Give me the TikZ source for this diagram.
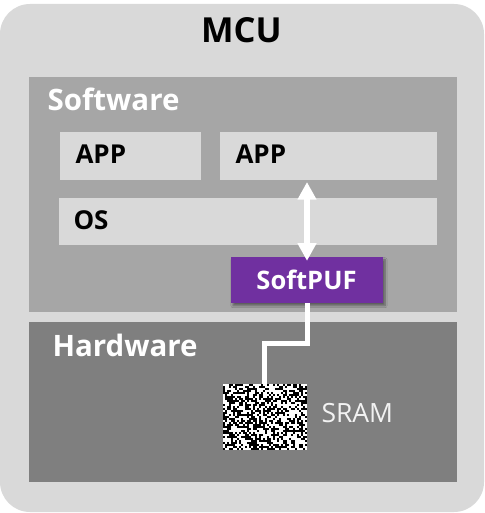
\documentclass[tikz,border=0pt]{standalone}
\usepackage{fontspec}
\setmainfont{Open Sans}
\usetikzlibrary{arrows.meta,calc,shadows.blur}
\definecolor{lg}{HTML}{D9D9D9}
\definecolor{mg}{HTML}{A6A6A6}
\definecolor{dg}{HTML}{7F7F7F}
\definecolor{pur}{HTML}{7030A0}
\begin{document}
\begin{tikzpicture}[x=1pt,y=-1pt,
  box/.style={inner sep=0pt, outer sep=0pt, draw=none},
  lbl/.style={inner sep=0pt, outer sep=0pt, anchor=base west},
  wire/.style={white, line width=5pt},
  dbl/.style={white, line width=5.3pt, {Triangle[width=18pt,length=17.7pt]}-{Triangle[width=18pt,length=17.7pt]}}
]
\useasboundingbox (0,0) rectangle (484,513);
\node[box, fill=lg, rounded corners=30pt, minimum width=484pt, minimum height=508pt] (mcu) at (242,258) {};
\node[box, fill=mg, minimum width=428pt, minimum height=235pt] (sw) at (243,194.5) {};
\node[box, fill=dg, minimum width=428pt, minimum height=160pt] (hw) at (243,402) {};
\node[box, fill=lg, minimum width=140.7pt, minimum height=48pt] (app1) at (130.35,156) {};
\node[box, fill=lg, minimum width=217pt, minimum height=48pt] (app2) at (328.5,156) {};
\node[box, fill=lg, minimum width=378pt, minimum height=47pt] (os) at (248,221.5) {};
\node[box, fill=pur, minimum width=152pt, minimum height=45.7pt,
  blur shadow={shadow xshift=2pt, shadow yshift=-2.5pt, shadow blur steps=6, shadow opacity=45}] (puf) at (307,280.2) {};
\node[box, fill=black, minimum width=84pt, minimum height=66pt] (sram) at (264.7,417) {};
\pgfmathsetseed{7}
\foreach \i in {0,...,41}{
  \foreach \j in {0,...,32}{
    \pgfmathsetmacro\r{rnd}
    \ifdim\r pt>0.48pt
      \fill[white] ($(sram.north west)+(\i*2,\j*2)$) rectangle ++(2,2);
    \fi
  }
}
% texts
\node[inner sep=0pt, anchor=base, font=\bfseries\fontsize{34.5}{38}\selectfont] (tmcu) at (241.5,42.7) {MCU};
\node[lbl, text=white, font=\bfseries\fontsize{29.5}{33}\selectfont] (tsw) at (47.5,110.3) {Software};
\node[lbl, text=white, font=\bfseries\fontsize{29.5}{33}\selectfont] (thw) at (52.5,356.8) {Hardware};
\node[lbl, font=\bfseries\fontsize{26}{30}\selectfont] (tapp1) at (75.5,163.3) {APP};
\node[lbl, font=\bfseries\fontsize{26}{30}\selectfont] (tapp2) at (235.5,163.3) {APP};
\node[lbl, font=\bfseries\fontsize{26}{30}\selectfont] (tos) at (73.5,229.7) {OS};
\node[inner sep=0pt, anchor=base, text=white, font=\bfseries\fontsize{25.5}{29}\selectfont] (tpuf) at (306.5,289) {SoftPUF};
\node[lbl, text=white!95!black, font=\fontsize{26.5}{31}\selectfont] (tsram) at (321.5,422) {SRAM};
% connectors
\draw[dbl] ([yshift=-3.5pt]puf.north) -- ([yshift=-2pt]puf.north |- app2.south);
\draw[wire] (puf.south) -- ($(puf.south)!0.5!(puf.south|-sram.north)$) -| (sram.north);
\end{tikzpicture}
\end{document}
